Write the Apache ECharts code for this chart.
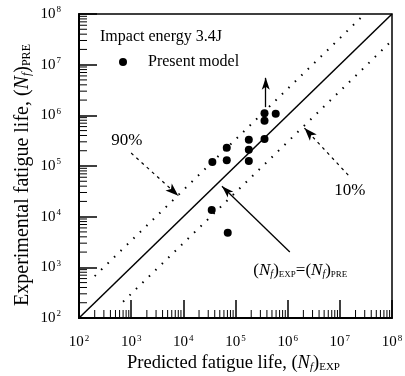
<!DOCTYPE html>
<html>
<head>
<meta charset="utf-8">
<script src="https://cdn.jsdelivr.net/npm/echarts@6/dist/echarts.min.js"></script>
<style>
  html, body { margin: 0; padding: 0; background: #fff; }
  #chart { width: 405px; height: 376px; }
</style>
</head>
<body>
<div id="chart"></div>
<script>
// values
const predicted    = [3.6e5, 5.9e5, 3.6e5, 1.8e5, 3.6e5, 6.8e4, 1.8e5, 3.6e4, 6.8e4, 1.8e5, 3.5e4, 7.1e4];
const experimental = [1.1e6, 1.07e6, 7.8e5, 3.3e5, 3.4e5, 2.3e5, 2.1e5, 1.2e5, 1.3e5, 1.25e5, 1.35e4, 4.8e3];
const decades = [1e2, 1e3, 1e4, 1e5, 1e6, 1e7, 1e8];
const mantissas = [2, 3, 4, 5, 6, 7, 8, 9];

// 1:1 line and the dotted 90% / 10% bounds
const equalLine = [[1e2, 1e2], [1e8, 1e8]];
const upperBound = [[2e2, 6.7e2], [3e7, 1e8]];
const lowerBound = [[7e2, 2.1e2], [1e8, 3e7]];

// annotation arrows: [from, to]
const arrow90 = [[1e3, 1.8e5], [8e3, 2.6e4]];
const arrow10 = [[1.45e7, 6.6e4], [2.1e6, 5.6e5]];
const arrowUp = [[3.8e5, 1.45e6], [3.8e5, 5.5e6]];
const arrowEq = [[1.1e6, 2e3], [5.5e4, 4e4]];

// annotation texts: [x, y, text]
const notes = [
  [8.3e2, 3.2e5, '90%'],
  [1.55e7, 3.3e4, '10%'],
  [1.75e6, 8.7e2, '({i|N}{f|f}){s|EXP}=({i|N}{f|f}){s|PRE}']
];

const FONT = 'Liberation Serif';

const minorTicks = [];
decades.slice(0, -1).forEach(d => mantissas.forEach(m => minorTicks.push(m * d)));

const chartDom = document.getElementById('chart');
const myChart = echarts.init(chartDom);

const tickRich = {
  b: { fontSize: 15, fontFamily: FONT, color: '#000', lineHeight: 17 },
  s: { fontSize: 9, fontFamily: FONT, color: '#000', verticalAlign: 'top', padding: [0, 0, 0, 1] }
};
const tickFormatter = v => '{b|10}{s|' + Math.round(Math.log10(v)) + '}';

function nameRich(size) {
  const sub = Math.round(size * 0.58);
  return {
    t: { fontSize: size, fontFamily: FONT, color: '#000' },
    i: { fontSize: size, fontFamily: FONT, fontStyle: 'italic', color: '#000' },
    f: { fontSize: sub, fontFamily: FONT, fontStyle: 'italic', color: '#000', verticalAlign: 'bottom' },
    s: { fontSize: sub, fontFamily: FONT, color: '#000', verticalAlign: 'bottom' }
  };
}

function arrowLine(pts, dashed, size) {
  return [
    { coord: pts[0], symbol: 'none' },
    {
      coord: pts[1], symbol: 'arrow', symbolSize: size,
      lineStyle: { color: '#000', width: dashed ? 1.2 : 1.3, type: dashed ? [3, 4] : 'solid' }
    }
  ];
}

const option = {
  animation: false,
  backgroundColor: '#ffffff',
  textStyle: { fontFamily: FONT, color: '#000' },
  title: {
    text: 'Impact energy 3.4J',
    left: 95,
    top: 24,
    textStyle: { fontSize: 16, fontWeight: 'normal', fontFamily: FONT, color: '#000' }
  },
  legend: {
    data: ['Present model'],
    left: 114,
    top: 49,
    icon: 'circle',
    itemWidth: 8,
    itemHeight: 8,
    textStyle: { fontSize: 16, fontFamily: FONT, color: '#000', padding: [0, 0, 0, 16] }
  },
  grid: {
    left: 79,
    right: 13,
    top: 14,
    bottom: 58,
    show: true,
    borderColor: '#000',
    borderWidth: 1.5,
    containLabel: false,
    outerBoundsMode: 'none'
  },
  xAxis: {
    type: 'log',
    logBase: 10,
    min: 1e2,
    max: 1e8,
    interval: 1,
    name: '{t|Predicted fatigue life, (}{i|N}{f|f}{t|)}{s|EXP}',
    nameLocation: 'middle',
    nameGap: 36,
    nameMoveOverlap: false,
    nameTextStyle: { rich: nameRich(18.5), padding: [0, 4, 0, 0] },
    axisLine: { lineStyle: { color: '#000', width: 2 } },
    axisTick: { inside: true, length: 18, lineStyle: { color: '#000', width: 1.5 } },
    axisLabel: { margin: 16, formatter: tickFormatter, rich: tickRich },
    splitLine: { show: false }
  },
  yAxis: {
    type: 'log',
    logBase: 10,
    min: 1e2,
    max: 1e8,
    interval: 1,
    name: '{t|Experimental fatigue life, (}{i|N}{f|f}{t|)}{s|PRE}',
    nameLocation: 'middle',
    nameGap: 46,
    nameMoveOverlap: false,
    nameTextStyle: { rich: nameRich(20), padding: [0, 18, 0, 0] },
    axisLine: { lineStyle: { color: '#000', width: 2 } },
    axisTick: { inside: true, length: 18, lineStyle: { color: '#000', width: 1.5 } },
    axisLabel: { margin: 18, formatter: tickFormatter, rich: tickRich },
    splitLine: { show: false }
  },
  series: [
    {
      name: 'minor ticks',
      type: 'custom',
      silent: true,
      data: minorTicks.map(v => [v, v]),
      encode: { x: 0, y: 1 },
      renderItem: (params, api) => {
        const v = api.value(0);
        const px = api.coord([v, 1e2]);
        const py = api.coord([1e2, v]);
        return {
          type: 'group',
          children: [
            { type: 'line', shape: { x1: px[0], y1: px[1], x2: px[0], y2: px[1] - 8 }, style: { stroke: '#000', lineWidth: 1 } },
            { type: 'line', shape: { x1: py[0], y1: py[1], x2: py[0] + 8, y2: py[1] }, style: { stroke: '#000', lineWidth: 1 } }
          ]
        };
      }
    },
    {
      name: 'equal',
      type: 'line',
      data: equalLine,
      symbol: 'none',
      lineStyle: { color: '#000', width: 1.5 },
      markLine: {
        silent: true,
        label: { show: false },
        data: [
          arrowLine(arrow90, true, [7, 13]),
          arrowLine(arrow10, true, [7, 13]),
          arrowLine(arrowUp, false, [6, 12]),
          arrowLine(arrowEq, false, [6, 12])
        ]
      }
    },
    {
      name: 'upper',
      type: 'line',
      data: upperBound,
      symbol: 'none',
      lineStyle: { color: '#000', width: 2, type: [1.5, 7.5] }
    },
    {
      name: 'lower',
      type: 'line',
      data: lowerBound,
      symbol: 'none',
      lineStyle: { color: '#000', width: 2, type: [1.5, 7.5] }
    },
    {
      name: 'Present model',
      type: 'scatter',
      data: predicted.map((x, i) => [x, experimental[i]]),
      symbol: 'circle',
      symbolSize: 8,
      itemStyle: { color: '#000', opacity: 1 }
    },
    {
      name: 'notes',
      type: 'scatter',
      data: notes,
      symbolSize: 0,
      silent: true,
      itemStyle: { opacity: 1 },
      label: {
        show: true,
        position: 'inside',
        formatter: p => p.data[2],
        fontSize: 17,
        fontFamily: FONT,
        color: '#000',
        opacity: 1,
        rich: {
          i: { fontSize: 17, fontFamily: FONT, fontStyle: 'italic', color: '#000' },
          f: { fontSize: 10, fontFamily: FONT, fontStyle: 'italic', color: '#000', verticalAlign: 'bottom' },
          s: { fontSize: 9, fontFamily: FONT, color: '#000', verticalAlign: 'bottom' }
        }
      }
    }
  ]
};

myChart.setOption(option);

window.addEventListener('resize', () => {
  myChart.resize();
});
</script>
</body>
</html>
